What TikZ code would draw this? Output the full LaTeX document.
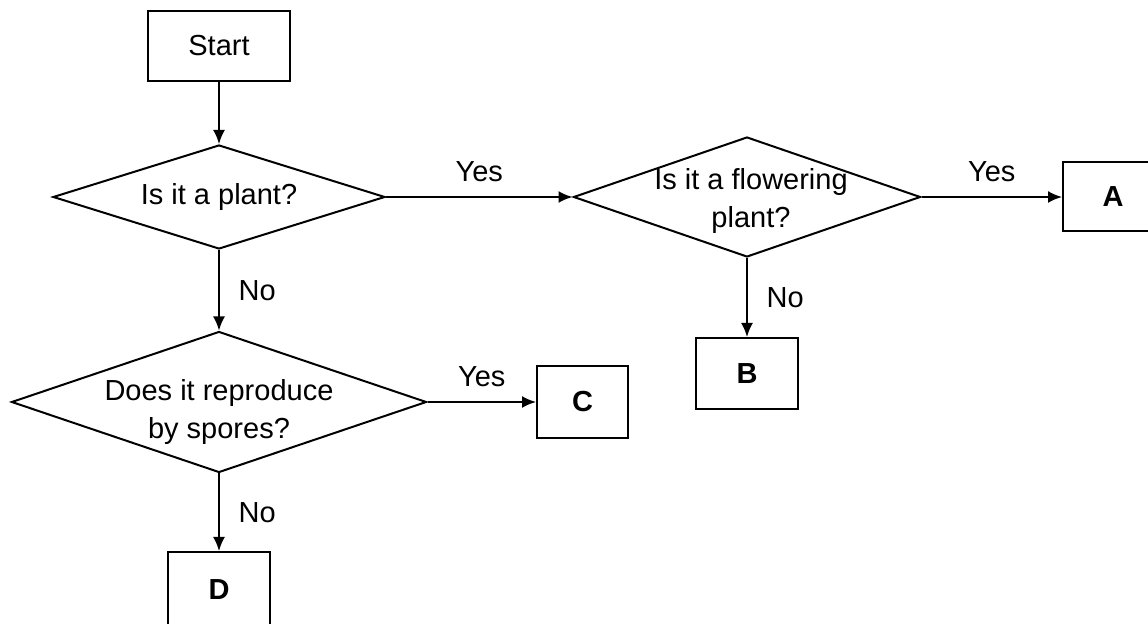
\documentclass[tikz,border=0pt]{standalone}
\usepackage{fontspec}
\setmainfont{Liberation Sans}
\usetikzlibrary{arrows.meta,shapes.geometric}

\begin{document}
\begin{tikzpicture}[x=0.5pt,y=-0.5pt,>={Latex[length=7pt,width=6pt]},
 font=\fontsize{14.5}{19}\selectfont,
 box/.style={rectangle,draw,line width=1pt,inner sep=0pt},
 leaf/.style={box,font=\fontsize{14.5}{19}\selectfont\bfseries},
 decision/.style={diamond,draw,line width=1pt,inner sep=0pt},
 flow/.style={->,line width=1pt}]
\useasboundingbox (0,0) rectangle (1148,624);
\clip (0,0) rectangle (1148,624);
 \node[box,minimum width=71pt,minimum height=35pt] (start) at (219,46) {Start};
 \node[decision,minimum width=166pt,minimum height=52pt,
  label={center:Is it a plant?}] (plant) at (219,197) {};
 \node[decision,minimum width=173.5pt,minimum height=60pt,
  label={[align=center,xshift=2pt,yshift=-2pt]center:{Is it a flowering\\plant?}}] (flower) at (747,197) {};
 \node[decision,minimum width=207.5pt,minimum height=70.5pt,
  label={[align=center,yshift=-5pt]center:{Does it reproduce\\by spores?}}] (spores) at (219,402) {};
 \node[leaf,minimum width=50pt,minimum height=34.5pt] (A) at (1113,197) {A};
 \node[leaf,minimum width=51pt,minimum height=35.5pt] (B) at (747,373.5) {B};
 \node[leaf,minimum width=45.5pt,minimum height=36pt] (C) at (582.5,402) {C};
 \node[leaf,minimum width=51pt,minimum height=38pt] (D) at (219,590) {D};
 \draw[flow] (start) -- (plant);
 \draw[flow] (plant.east) -- node[above=4pt] {Yes} (flower.west);
 \draw[flow] (flower.east) -- node[above=4pt] {Yes} (A.west);
 \draw[flow] (flower.south) -- node[right=6pt] {No} (B.north);
 \draw[flow] (plant.south) -- node[right=6pt] {No} (spores.north);
 \draw[flow] (spores.east) -- node[above=4pt] {Yes} (C.west);
 \draw[flow] (spores.south) -- node[right=6pt] {No} (D.north);
\end{tikzpicture}
\end{document}
